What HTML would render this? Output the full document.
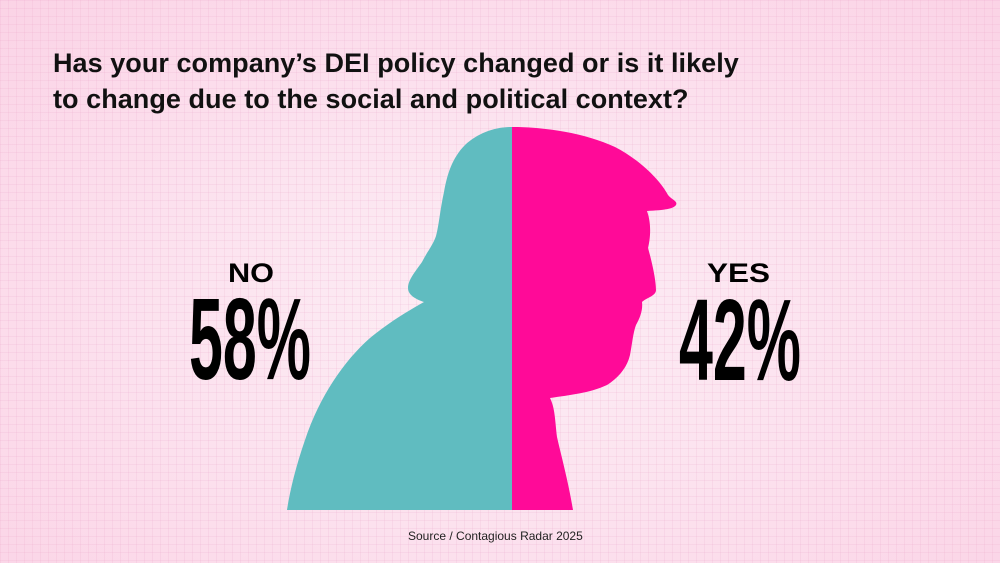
<!DOCTYPE html>
<html><head><meta charset="utf-8"><style>
html,body{margin:0;padding:0}
body{width:1000px;height:563px;overflow:hidden;position:relative;
background:radial-gradient(ellipse at 50% 55%,#fdeef5 0%,#fce3ef 45%,#fbd3e6 100%);}
.grid{position:absolute;inset:0;
background-image:linear-gradient(rgba(230,150,190,.14) 1px,transparent 1px),linear-gradient(90deg,rgba(230,150,190,.14) 1px,transparent 1px);
background-size:8px 8px;}
.t{position:absolute;left:53px;top:45px;font:bold 27px/36px "Liberation Sans",sans-serif;color:#111;letter-spacing:0.05px}
.s{position:absolute;left:408px;top:529px;font:12px "Liberation Sans",sans-serif;color:#222}
</style></head><body>
<div class="grid"></div>
<div class="t">Has your company’s DEI policy changed or is it likely<br>to change due to the social and political context?</div>
<svg width="1000" height="563" style="position:absolute;left:0;top:0">
<path fill="#60bcc0" d="M512,127 C495,127 478,133 465,145 C452,158 447,175 444,192 C440,210 439,225 436,236 C433,245 427,252 422,262 C415,272 408,280 408,288 C408,296 418,300 424,302 C410,310 392,320 370,338 C345,360 320,395 305,440 C296,466 290,490 287,510 L512,510 Z"/>
<path fill="#ff0a98" d="M512,127 C545,127 585,133 615,147 C640,160 660,180 668,195 C672,200 678,201 676,205 C673,209 665,210 647,211 C652,225 650,240 648,248 C652,262 656,280 656,290 C656,296 646,298 642,302 C643,310 640,318 636,325 C633,333 632,345 630,355 C627,368 618,378 607,385 C590,393 570,395 550,398 C555,408 555,420 557,437 C561,455 568,480 573,510 L512,510 Z"/>
<g font-family="'Liberation Sans Narrow','Liberation Sans',sans-serif" font-weight="bold" fill="#000">
<text x="228" y="282" font-size="27" textLength="46" lengthAdjust="spacingAndGlyphs" font-family="Liberation Sans">NO</text>
<text x="707" y="282" font-size="27" textLength="63" lengthAdjust="spacingAndGlyphs" font-family="Liberation Sans">YES</text>
<text x="189" y="379" font-size="116" textLength="122" lengthAdjust="spacingAndGlyphs">58%</text>
<text x="679" y="380" font-size="116" textLength="122" lengthAdjust="spacingAndGlyphs">42%</text>
</g>
</svg>
<div class="s">Source / Contagious Radar 2025</div>
</body></html>
